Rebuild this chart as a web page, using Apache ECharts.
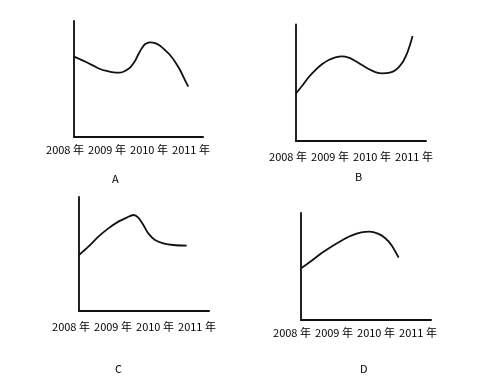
<!DOCTYPE html>
<html><head><meta charset="utf-8">
<script src="https://cdn.jsdelivr.net/npm/echarts@6/dist/echarts.min.js"></script>
<style>html,body{margin:0;padding:0;background:#fff}#c{width:495px;height:390px}</style>
</head><body><div id="c"></div>
<script>
var years = ['2008 年', '2009 年', '2010 年', '2011 年'];
var panelNames = ['A', 'B', 'C', 'D'];
var aX = [0, 0.47, 0.98, 1.50, 2.02, 2.53, 3.05, 3.57, 3.95, 4.34, 4.73, 4.99, 5.25, 5.50, 5.89, 6.28, 6.67, 7.05, 7.44, 7.83, 8.22, 8.60, 8.86];
var aY = [6.93, 6.70, 6.44, 6.15, 5.86, 5.69, 5.57, 5.55, 5.69, 5.98, 6.55, 7.13, 7.64, 7.99, 8.16, 8.10, 7.87, 7.50, 7.07, 6.49, 5.78, 4.91, 4.34];
var bX = [0, 0.46, 0.97, 1.49, 2.00, 2.51, 3.03, 3.54, 4.05, 4.56, 5.08, 5.59, 6.10, 6.62, 7.13, 7.64, 8.15, 8.54, 8.79, 8.97];
var bY = [4.09, 4.72, 5.47, 6.09, 6.58, 6.95, 7.18, 7.27, 7.15, 6.87, 6.52, 6.18, 5.92, 5.81, 5.84, 6.07, 6.67, 7.53, 8.33, 9.01];
var cX = [0, 0.72, 1.49, 2.26, 3.03, 3.67, 4.18, 4.56, 4.95, 5.33, 5.85, 6.49, 7.26, 8.28];
var cY = [4.91, 5.64, 6.52, 7.25, 7.84, 8.19, 8.42, 8.19, 7.54, 6.81, 6.23, 5.94, 5.79, 5.73];
var dX = [0, 0.79, 1.56, 2.33, 3.10, 3.87, 4.64, 5.28, 5.92, 6.44, 6.95, 7.51];
var dY = [4.83, 5.51, 6.23, 6.85, 7.41, 7.88, 8.19, 8.26, 8.07, 7.69, 7.01, 5.83];

function zip(xs, ys) { return xs.map(function (x, i) { return [x, ys[i]]; }); }
var curves = [zip(aX, aY), zip(bX, bY), zip(cX, cY), zip(dX, dY)];

// layout (pixels)
var plots = [
  {left: 74, top: 21, width: 129, height: 116},
  {left: 296, top: 24.5, width: 130, height: 116.5},
  {left: 79, top: 197, width: 130, height: 114},
  {left: 301, top: 213, width: 130, height: 107}
];
var labelRows = [
  {left: 44, width: 168, y: 150},
  {left: 267, width: 168, y: 157},
  {left: 50, width: 168, y: 327},
  {left: 271, width: 168, y: 333}
];
var letters = [
  {x: 116, y: 180}, {x: 359, y: 178}, {x: 119, y: 370}, {x: 364, y: 370}
];

var font = '"Noto Sans CJK SC", "Noto Sans", sans-serif';
var grids = [], xAxes = [], yAxes = [], series = [], titles = [];
for (var i = 0; i < 4; i++) {
  var p = plots[i];
  grids.push({left: p.left, top: p.top, width: p.width, height: p.height});
  xAxes.push({gridIndex: 2 * i, type: 'value', min: 0, max: 10,
    axisLine: {show: true, onZero: false, lineStyle: {color: '#111', width: 2}},
    axisTick: {show: false}, axisLabel: {show: false}, splitLine: {show: false}});
  yAxes.push({gridIndex: 2 * i, type: 'value', min: 0, max: 10,
    axisLine: {show: true, onZero: false, lineStyle: {color: '#222', width: 2}},
    axisTick: {show: false}, axisLabel: {show: false}, splitLine: {show: false}});
  series.push({type: 'line', xAxisIndex: 2 * i, yAxisIndex: 2 * i, data: curves[i],
    smooth: 0.3, showSymbol: false, lineStyle: {color: '#111', width: 1.8}, silent: true});
  var r = labelRows[i];
  grids.push({left: r.left, width: r.width, top: r.y - 30, height: 22});
  xAxes.push({gridIndex: 2 * i + 1, type: 'category', data: years, boundaryGap: true,
    axisLine: {show: false}, axisTick: {show: false}, splitLine: {show: false},
    axisLabel: {show: true, interval: 0, margin: 2, color: '#000', fontSize: 11, fontFamily: font}});
  yAxes.push({gridIndex: 2 * i + 1, type: 'value', show: false});
  series.push({type: 'line', xAxisIndex: 2 * i + 1, yAxisIndex: 2 * i + 1, data: [], silent: true});
  titles.push({text: panelNames[i], left: letters[i].x - 4, top: letters[i].y - 7, padding: 0,
    textStyle: {fontSize: 11, fontWeight: 'normal', color: '#000', fontFamily: font}});
}

var chart = echarts.init(document.getElementById('c'), null, {renderer: 'canvas'});
chart.setOption({
  animation: false,
  title: titles,
  grid: grids,
  xAxis: xAxes,
  yAxis: yAxes,
  series: series
});
</script></body></html>
